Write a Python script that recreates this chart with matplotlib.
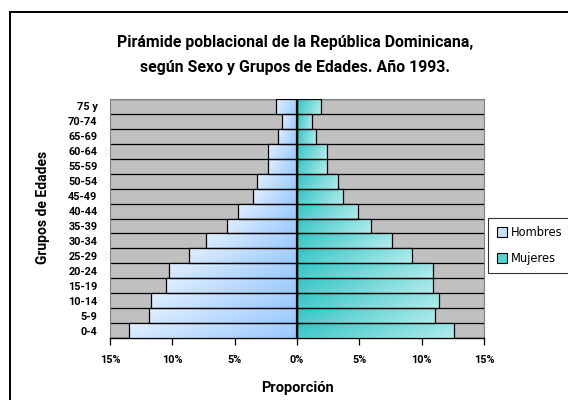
import numpy as np
import matplotlib
matplotlib.use("Agg")
import matplotlib.pyplot as plt
from matplotlib.colors import LinearSegmentedColormap
from matplotlib.patches import Patch
from matplotlib.lines import Line2D

# Datos (porcentaje de la poblacion)
grupos = ['0-4', '5-9', '10-14', '15-19', '20-24', '25-29', '30-34', '35-39',
          '40-44', '45-49', '50-54', '55-59', '60-64', '65-69', '70-74', '75 y']
hombres = [13.5, 11.9, 11.7, 10.5, 10.3, 8.7, 7.3, 5.6, 4.7, 3.5, 3.2, 2.3, 2.3, 1.5, 1.2, 1.7]
mujeres = [12.6, 11.1, 11.4, 10.9, 10.9, 9.2, 7.6, 5.9, 4.9, 3.7, 3.3, 2.4, 2.4, 1.5, 1.2, 1.9]
xticks = [-15, -10, -5, 0, 5, 10, 15]
xlabels = ['15%', '10%', '5%', '0%', '5%', '10%', '15%']

FONT = ['Roboto', 'DejaVu Sans']
TXT = dict(fontweight='bold', family=FONT, fontstretch='condensed')

fig = plt.figure(figsize=(5.68, 4.0), dpi=100)
fig.patch.set_facecolor('white')
ax = fig.add_axes([0.1937, 0.155, 0.6585, 0.5975])
ax.set_facecolor('#C0C0C0')

y = np.arange(len(grupos))
cmap_h = LinearSegmentedColormap.from_list('h', ['#E2EFFF', '#98C8FF'])
cmap_m = LinearSegmentedColormap.from_list('m', ['#33C4C4', '#B4ECEC'])

bars_h = ax.barh(y, [-v for v in hombres], height=1.0, facecolor='none',
                 edgecolor='black', linewidth=0.9, zorder=4)
bars_m = ax.barh(y, mujeres, height=1.0, facecolor='none',
                 edgecolor='black', linewidth=0.9, zorder=4)

# relleno degradado recortado a cada barra
gx, gy = np.meshgrid(np.linspace(0, 1, 64), np.linspace(0, 1, 8))
grad = 0.8 * gx + 0.2 * (1 - gy)
for bars, cmap in ((bars_h, cmap_h), (bars_m, cmap_m)):
    for b in bars:
        x0, y0 = b.get_x(), b.get_y()
        w, h = b.get_width(), b.get_height()
        xa, xb = min(x0, x0 + w), max(x0, x0 + w)
        im = ax.imshow(grad, cmap=cmap, extent=[xa, xb, y0, y0 + h],
                       origin='lower', aspect='auto', zorder=3,
                       interpolation='bilinear')
        im.set_clip_path(b)

# lineas de division horizontales
ax.hlines(np.arange(len(grupos) + 1) - 0.5, -15, 15, colors='black',
          linewidth=0.9, zorder=2)
ax.axvline(0, color='black', linewidth=1.6, zorder=5)

ax.set_xlim(-15, 15)
ax.set_ylim(-0.5, len(grupos) - 0.5)
ax.set_xticks(xticks)
ax.set_xticklabels(xlabels, fontsize=7.8, **TXT)
ax.set_yticks(y)
ax.set_yticklabels(grupos, fontsize=7.8, **TXT)
ax.tick_params(axis='y', length=0, pad=9)
ax.tick_params(axis='x', length=5, width=0.9, direction='out', pad=7)

for s in ('top', 'left', 'right'):
    ax.spines[s].set_color('#808080')
    ax.spines[s].set_linewidth(0.8)
ax.spines['bottom'].set_linewidth(1.0)

ax.set_xlabel('Proporción', fontsize=10.5, **TXT)
ax.set_ylabel('Grupos de Edades', fontsize=10, **TXT)
ax.xaxis.set_label_coords(0.5, -0.18)
ax.yaxis.set_label_coords(-0.16, 0.548)

fig.text(0.52, 0.862, 'Pirámide poblacional de la República Dominicana,\n'
         'según Sexo y Grupos de Edades. Año 1993.',
         ha='center', va='center', fontsize=11.4, linespacing=1.85, **TXT)

handles = [Patch(facecolor='#C8DFF8', edgecolor='black', linewidth=0.8, label='Hombres'),
           Patch(facecolor='#5CCFCF', edgecolor='black', linewidth=0.8, label='Mujeres')]
leg = fig.legend(handles=handles, loc='upper left', bbox_to_anchor=(0.86, 0.455),
                 frameon=True, fancybox=False, borderaxespad=0, fontsize=8.3,
                 handlelength=0.9, handleheight=0.9, handletextpad=0.3,
                 labelspacing=1.1, borderpad=0.7)
leg.get_frame().set_edgecolor('black')
leg.get_frame().set_linewidth(0.8)

# marco del area del grafico
fig.add_artist(Line2D([0.0176, 0.0176], [0, 0.97], color='black', linewidth=1.4,
                      transform=fig.transFigure))
fig.add_artist(Line2D([0.0176, 1], [0.97, 0.97], color='black', linewidth=1.4,
                      transform=fig.transFigure))

fig.savefig('out.png', dpi=100)
